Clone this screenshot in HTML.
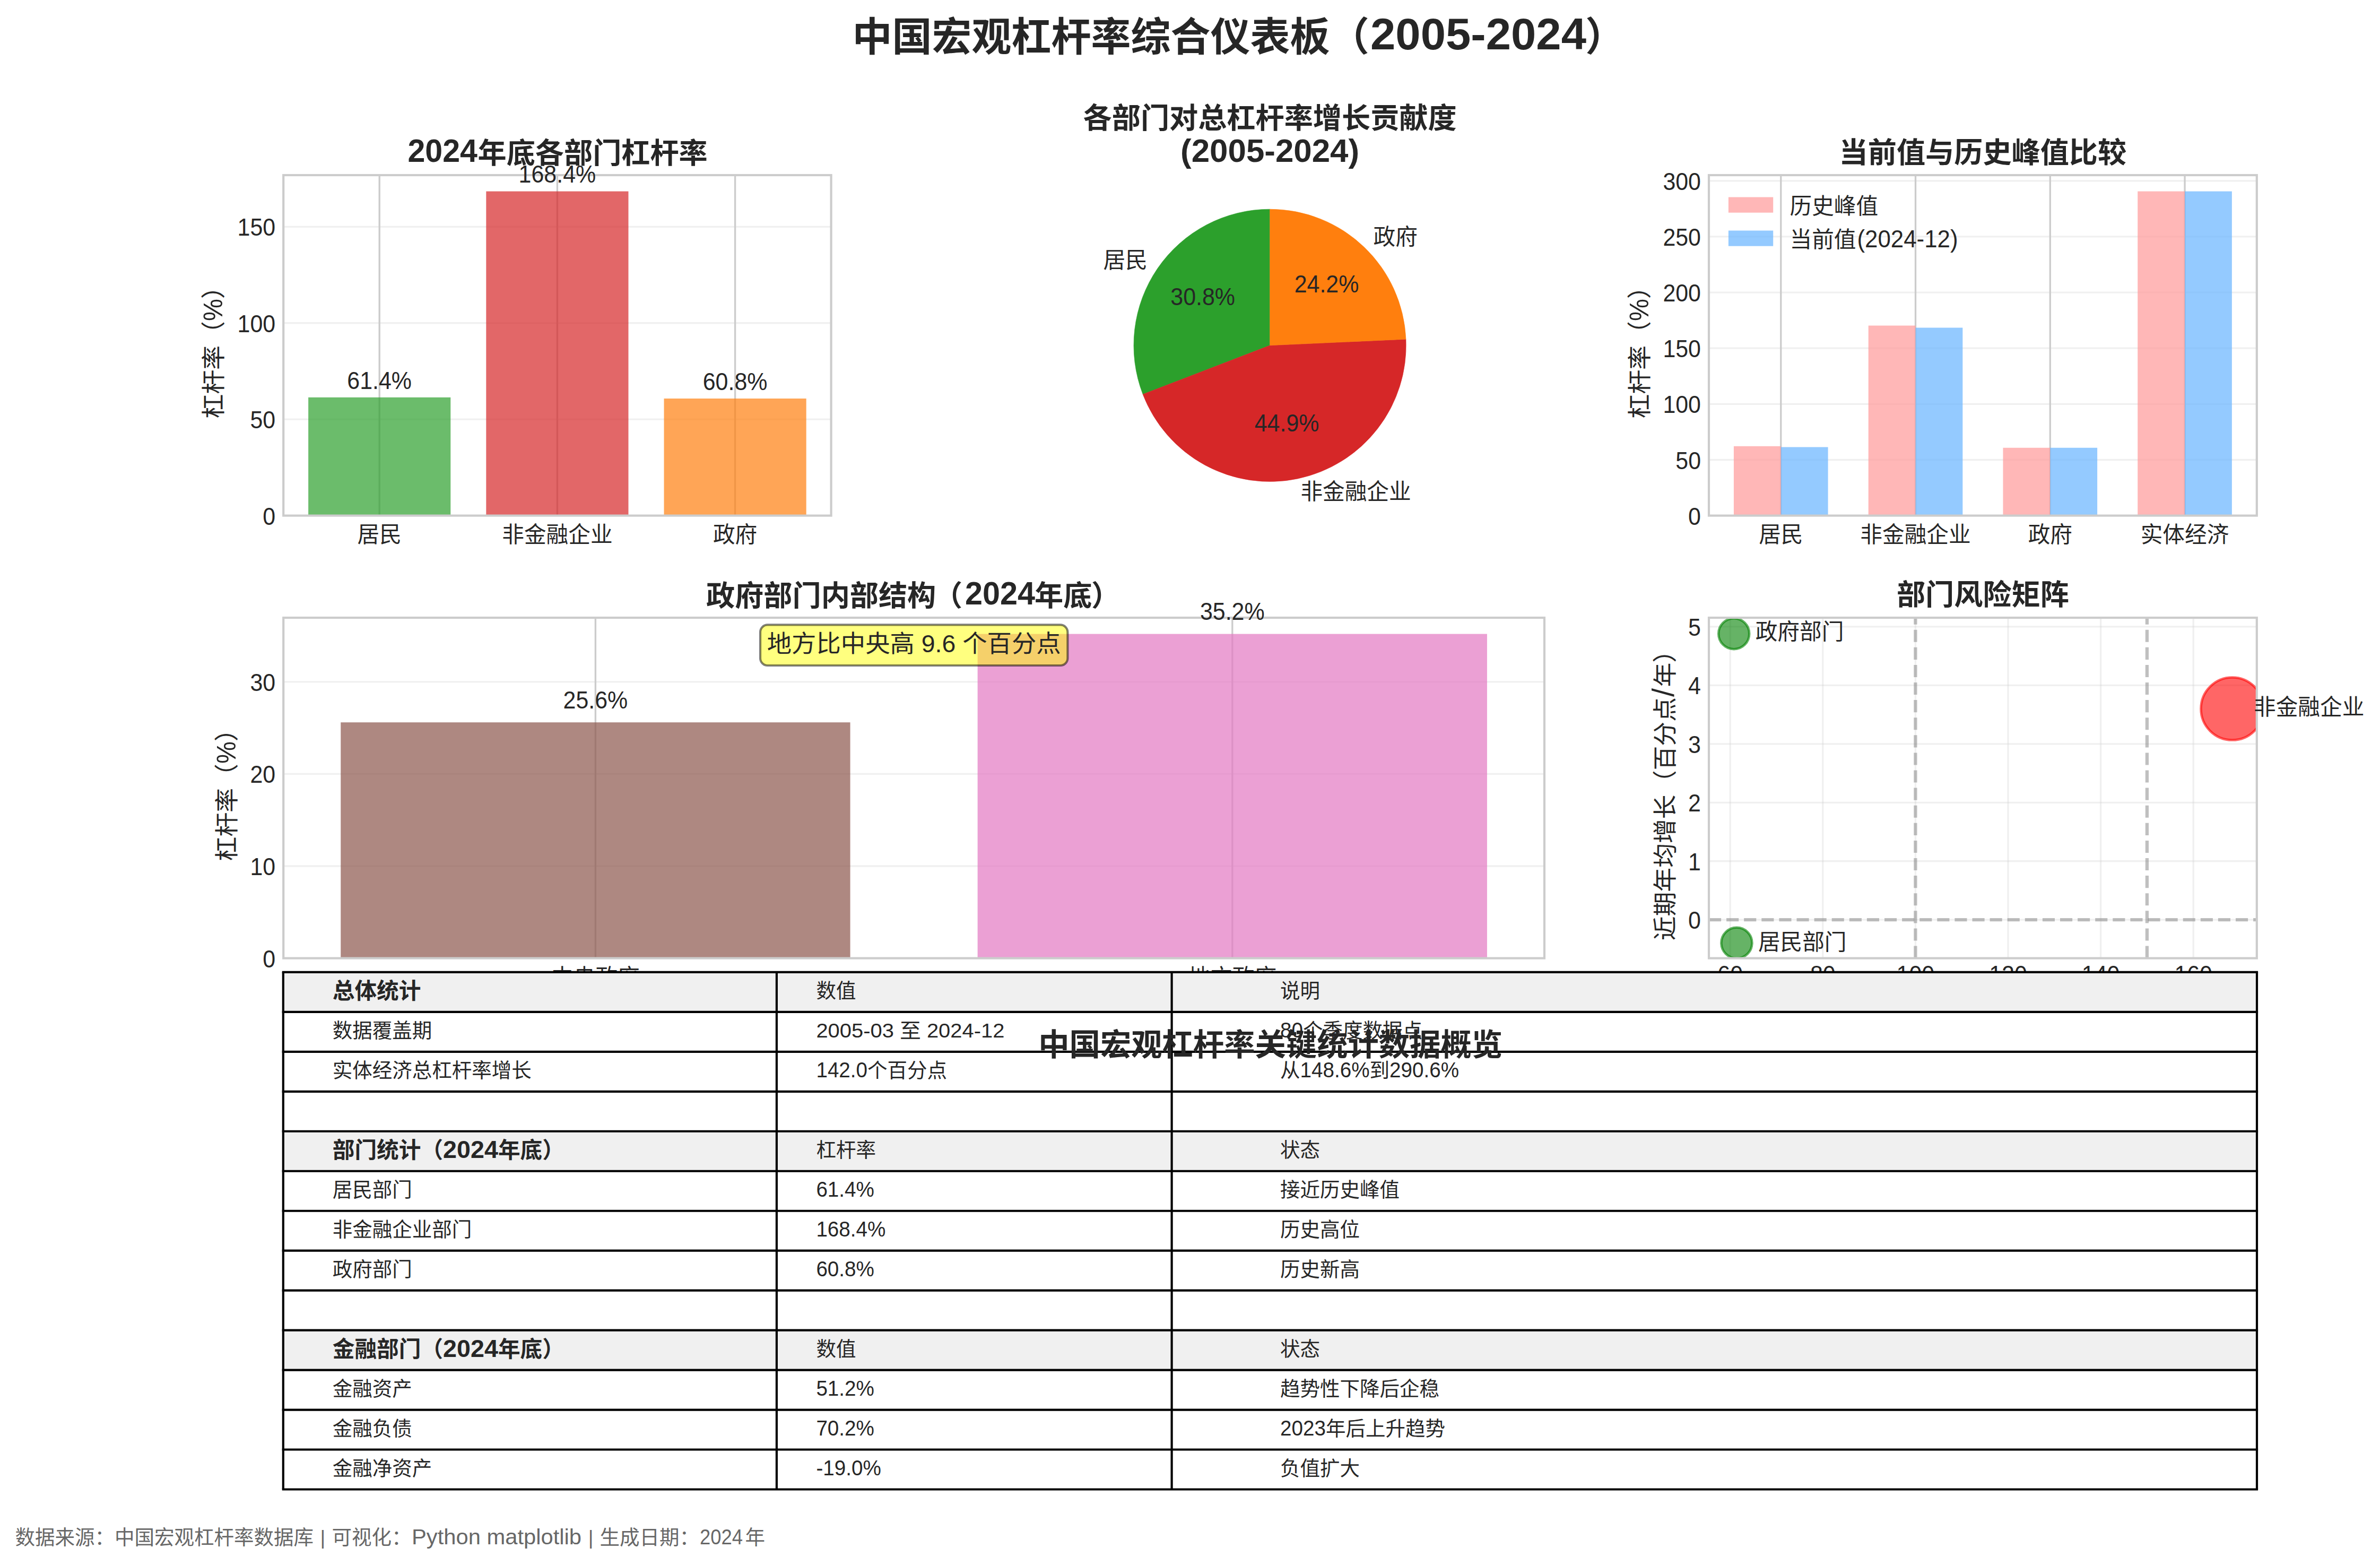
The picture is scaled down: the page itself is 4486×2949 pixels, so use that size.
<!DOCTYPE html>
<html lang="zh"><head><meta charset="utf-8"><title>中国宏观杠杆率综合仪表板</title>
<style>html,body{margin:0;padding:0;background:#fff;overflow:hidden}svg{display:block}
text{font-family:"Liberation Sans","Noto Sans CJK SC",sans-serif}</style></head>
<body><svg width="4486" height="2949" viewBox="0 0 4486 2949">
<rect width="4486" height="2949" fill="#fff"/>
<g fill="#262626">
<text font-size="75.00" font-weight="bold"><tspan x="1606.5" y="96.0">中国宏观杠杆率综合仪表板</tspan><tspan x="2506.0" y="96.0">（</tspan><tspan x="2583.0" y="93.0" font-size="84.00" textLength="407.0" lengthAdjust="spacingAndGlyphs">2005-2024</tspan><tspan x="2988.0" y="96.0">）</tspan></text>
<line x1="534.20" y1="790.17" x2="1566.60" y2="790.17" stroke="#cccccc" stroke-width="3.33" stroke-opacity="0.3"/>
<line x1="534.20" y1="608.75" x2="1566.60" y2="608.75" stroke="#cccccc" stroke-width="3.33" stroke-opacity="0.3"/>
<line x1="534.20" y1="427.32" x2="1566.60" y2="427.32" stroke="#cccccc" stroke-width="3.33" stroke-opacity="0.3"/>
<line x1="715.21" y1="330.00" x2="715.21" y2="971.60" stroke="#cccccc" stroke-width="3.33"/>
<line x1="1050.40" y1="330.00" x2="1050.40" y2="971.60" stroke="#cccccc" stroke-width="3.33"/>
<line x1="1385.59" y1="330.00" x2="1385.59" y2="971.60" stroke="#cccccc" stroke-width="3.33"/>
<rect x="581.13" y="748.81" width="268.16" height="222.79" fill="#2ca02c" fill-opacity="0.7"/>
<rect x="916.32" y="360.55" width="268.16" height="611.05" fill="#d62728" fill-opacity="0.7"/>
<rect x="1251.52" y="750.98" width="268.16" height="220.62" fill="#ff7f0e" fill-opacity="0.7"/>
<rect x="534.20" y="330.00" width="1032.40" height="641.60" fill="none" stroke="#cccccc" stroke-width="4.17"/>
<text x="715.2" y="732.5" font-size="45.83" text-anchor="middle" textLength="121.7" lengthAdjust="spacingAndGlyphs">61.4%</text>
<text x="715.2" y="1021.6" font-size="41.67" text-anchor="middle">居民</text>
<text x="1050.4" y="344.3" font-size="45.83" text-anchor="middle" textLength="145.6" lengthAdjust="spacingAndGlyphs">168.4%</text>
<text x="1050.4" y="1021.6" font-size="41.67" text-anchor="middle">非金融企业</text>
<text x="1385.6" y="734.7" font-size="45.83" text-anchor="middle" textLength="121.7" lengthAdjust="spacingAndGlyphs">60.8%</text>
<text x="1385.6" y="1021.6" font-size="41.67" text-anchor="middle">政府</text>
<text x="519.2" y="988.6" font-size="45.83" text-anchor="end" textLength="23.9" lengthAdjust="spacingAndGlyphs">0</text>
<text x="519.2" y="807.2" font-size="45.83" text-anchor="end" textLength="47.7" lengthAdjust="spacingAndGlyphs">50</text>
<text x="519.2" y="625.7" font-size="45.83" text-anchor="end" textLength="71.6" lengthAdjust="spacingAndGlyphs">100</text>
<text x="519.2" y="444.3" font-size="45.83" text-anchor="end" textLength="71.6" lengthAdjust="spacingAndGlyphs">150</text>
<text x="419.0" y="652.8" font-size="45.83" text-anchor="middle" transform="rotate(-90 419.0 652.8)">杠杆率（<tspan font-size="50.42" textLength="42.0" lengthAdjust="spacingAndGlyphs">%</tspan>）</text>
<text font-size="54.17" font-weight="bold"><tspan x="768.5" y="305.3" font-size="60.67" textLength="131.5" lengthAdjust="spacingAndGlyphs">2024</tspan><tspan x="900.5" y="307.5">年底各部门杠杆率</tspan></text>
<path d="M2393.60,650.80 L2393.60,394.20 A256.6,256.6 0 0 0 2154.11,742.92 Z" fill="#2ca02c" stroke="#2ca02c" stroke-width="0.6"/>
<path d="M2393.60,650.80 L2154.11,742.92 A256.6,256.6 0 0 0 2649.94,639.16 Z" fill="#d62728" stroke="#d62728" stroke-width="0.6"/>
<path d="M2393.60,650.80 L2649.94,639.16 A256.6,256.6 0 0 0 2393.60,394.20 Z" fill="#ff7f0e" stroke="#ff7f0e" stroke-width="0.6"/>
<text x="2162.9" y="505.0" font-size="41.67" text-anchor="end">居民</text>
<text x="2267.2" y="575.1" font-size="45.83" text-anchor="middle" textLength="121.7" lengthAdjust="spacingAndGlyphs">30.8%</text>
<text x="2451.4" y="941.1" font-size="41.67" text-anchor="start">非金融企业</text>
<text x="2425.6" y="813.0" font-size="45.83" text-anchor="middle" textLength="121.7" lengthAdjust="spacingAndGlyphs">44.9%</text>
<text x="2588.6" y="460.7" font-size="41.67" text-anchor="start">政府</text>
<text x="2500.5" y="551.0" font-size="45.83" text-anchor="middle" textLength="121.7" lengthAdjust="spacingAndGlyphs">24.2%</text>
<text x="2393.6" y="242.2" font-size="54.17" text-anchor="middle" font-weight="bold">各部门对总杠杆率增长贡献度</text>
<text x="2393.6" y="305.3" font-size="54.17" text-anchor="middle" font-weight="bold" textLength="337.0" lengthAdjust="spacingAndGlyphs"><tspan font-size="60.67">(2005-2024)</tspan></text>
<line x1="3221.00" y1="866.46" x2="4253.80" y2="866.46" stroke="#cccccc" stroke-width="3.33" stroke-opacity="0.3"/>
<line x1="3221.00" y1="761.33" x2="4253.80" y2="761.33" stroke="#cccccc" stroke-width="3.33" stroke-opacity="0.3"/>
<line x1="3221.00" y1="656.19" x2="4253.80" y2="656.19" stroke="#cccccc" stroke-width="3.33" stroke-opacity="0.3"/>
<line x1="3221.00" y1="551.06" x2="4253.80" y2="551.06" stroke="#cccccc" stroke-width="3.33" stroke-opacity="0.3"/>
<line x1="3221.00" y1="445.92" x2="4253.80" y2="445.92" stroke="#cccccc" stroke-width="3.33" stroke-opacity="0.3"/>
<line x1="3221.00" y1="340.79" x2="4253.80" y2="340.79" stroke="#cccccc" stroke-width="3.33" stroke-opacity="0.3"/>
<line x1="3356.76" y1="330.00" x2="3356.76" y2="971.60" stroke="#cccccc" stroke-width="3.33"/>
<line x1="3610.52" y1="330.00" x2="3610.52" y2="971.60" stroke="#cccccc" stroke-width="3.33"/>
<line x1="3864.28" y1="330.00" x2="3864.28" y2="971.60" stroke="#cccccc" stroke-width="3.33"/>
<line x1="4118.04" y1="330.00" x2="4118.04" y2="971.60" stroke="#cccccc" stroke-width="3.33"/>
<rect x="3267.95" y="840.81" width="88.82" height="130.79" fill="#ff9999" fill-opacity="0.7"/>
<rect x="3356.76" y="842.49" width="88.82" height="129.11" fill="#66b3ff" fill-opacity="0.7"/>
<rect x="3521.70" y="613.51" width="88.82" height="358.09" fill="#ff9999" fill-opacity="0.7"/>
<rect x="3610.52" y="617.50" width="88.82" height="354.10" fill="#66b3ff" fill-opacity="0.7"/>
<rect x="3775.46" y="843.76" width="88.82" height="127.84" fill="#ff9999" fill-opacity="0.7"/>
<rect x="3864.28" y="843.76" width="88.82" height="127.84" fill="#66b3ff" fill-opacity="0.7"/>
<rect x="4029.22" y="360.55" width="88.82" height="611.05" fill="#ff9999" fill-opacity="0.7"/>
<rect x="4118.04" y="360.55" width="88.82" height="611.05" fill="#66b3ff" fill-opacity="0.7"/>
<rect x="3221.00" y="330.00" width="1032.80" height="641.60" fill="none" stroke="#cccccc" stroke-width="4.17"/>
<text x="3356.8" y="1021.6" font-size="41.67" text-anchor="middle">居民</text>
<text x="3610.5" y="1021.6" font-size="41.67" text-anchor="middle">非金融企业</text>
<text x="3864.3" y="1021.6" font-size="41.67" text-anchor="middle">政府</text>
<text x="4118.0" y="1021.6" font-size="41.67" text-anchor="middle">实体经济</text>
<text x="3206.0" y="988.6" font-size="45.83" text-anchor="end" textLength="23.9" lengthAdjust="spacingAndGlyphs">0</text>
<text x="3206.0" y="883.5" font-size="45.83" text-anchor="end" textLength="47.7" lengthAdjust="spacingAndGlyphs">50</text>
<text x="3206.0" y="778.3" font-size="45.83" text-anchor="end" textLength="71.6" lengthAdjust="spacingAndGlyphs">100</text>
<text x="3206.0" y="673.2" font-size="45.83" text-anchor="end" textLength="71.6" lengthAdjust="spacingAndGlyphs">150</text>
<text x="3206.0" y="568.1" font-size="45.83" text-anchor="end" textLength="71.6" lengthAdjust="spacingAndGlyphs">200</text>
<text x="3206.0" y="462.9" font-size="45.83" text-anchor="end" textLength="71.6" lengthAdjust="spacingAndGlyphs">250</text>
<text x="3206.0" y="357.8" font-size="45.83" text-anchor="end" textLength="71.6" lengthAdjust="spacingAndGlyphs">300</text>
<text x="3107.0" y="652.8" font-size="45.83" text-anchor="middle" transform="rotate(-90 3107.0 652.8)">杠杆率（<tspan font-size="50.42" textLength="42.0" lengthAdjust="spacingAndGlyphs">%</tspan>）</text>
<text x="3737.4" y="307.2" font-size="54.17" text-anchor="middle" font-weight="bold">当前值与历史峰值比较</text>
<rect x="3257.90" y="371.50" width="84.30" height="29.20" fill="#ff9999" fill-opacity="0.7"/>
<rect x="3257.90" y="434.50" width="84.30" height="29.20" fill="#66b3ff" fill-opacity="0.7"/>
<text x="3373.5" y="403.0" font-size="41.67" text-anchor="start">历史峰值</text>
<text font-size="41.67"><tspan x="3373.5" y="466.0">当前值</tspan><tspan x="3500.5" y="466.0" font-size="45.83" textLength="190.0" lengthAdjust="spacingAndGlyphs">(2024-12)</tspan></text>
<line x1="534.20" y1="1632.01" x2="2911.00" y2="1632.01" stroke="#cccccc" stroke-width="3.33" stroke-opacity="0.3"/>
<line x1="534.20" y1="1458.41" x2="2911.00" y2="1458.41" stroke="#cccccc" stroke-width="3.33" stroke-opacity="0.3"/>
<line x1="534.20" y1="1284.82" x2="2911.00" y2="1284.82" stroke="#cccccc" stroke-width="3.33" stroke-opacity="0.3"/>
<line x1="1122.40" y1="1164.00" x2="1122.40" y2="1805.60" stroke="#cccccc" stroke-width="3.33"/>
<line x1="2322.80" y1="1164.00" x2="2322.80" y2="1805.60" stroke="#cccccc" stroke-width="3.33"/>
<rect x="642.24" y="1361.20" width="960.32" height="444.40" fill="#8c564b" fill-opacity="0.7"/>
<rect x="1842.64" y="1194.55" width="960.32" height="611.05" fill="#e377c2" fill-opacity="0.7"/>
<rect x="534.20" y="1164.00" width="2376.80" height="641.60" fill="none" stroke="#cccccc" stroke-width="4.17"/>
<text x="1122.4" y="1334.8" font-size="45.83" text-anchor="middle" textLength="121.7" lengthAdjust="spacingAndGlyphs">25.6%</text>
<text x="1122.4" y="1855.6" font-size="41.67" text-anchor="middle">中央政府</text>
<text x="2322.8" y="1168.2" font-size="45.83" text-anchor="middle" textLength="121.7" lengthAdjust="spacingAndGlyphs">35.2%</text>
<text x="2322.8" y="1855.6" font-size="41.67" text-anchor="middle">地方政府</text>
<text x="519.2" y="1822.6" font-size="45.83" text-anchor="end" textLength="23.9" lengthAdjust="spacingAndGlyphs">0</text>
<text x="519.2" y="1649.0" font-size="45.83" text-anchor="end" textLength="47.7" lengthAdjust="spacingAndGlyphs">10</text>
<text x="519.2" y="1475.4" font-size="45.83" text-anchor="end" textLength="47.7" lengthAdjust="spacingAndGlyphs">20</text>
<text x="519.2" y="1301.8" font-size="45.83" text-anchor="end" textLength="47.7" lengthAdjust="spacingAndGlyphs">30</text>
<text x="444.5" y="1486.8" font-size="45.83" text-anchor="middle" transform="rotate(-90 444.5 1486.8)">杠杆率（<tspan font-size="50.42" textLength="42.0" lengthAdjust="spacingAndGlyphs">%</tspan>）</text>
<text font-size="54.17" font-weight="bold"><tspan x="1331.0" y="1141.5">政府部门内部结构</tspan><tspan x="1760.0" y="1141.5">（</tspan><tspan x="1819.0" y="1139.3" font-size="60.67" textLength="132.0" lengthAdjust="spacingAndGlyphs">2024</tspan><tspan x="1950.0" y="1141.5">年底</tspan><tspan x="2057.0" y="1141.5">）</tspan></text>
<rect x="1433.0" y="1177.4" width="579.4" height="76.6" rx="13.75" ry="13.75" fill="#ffff00" fill-opacity="0.5" stroke="#000" stroke-opacity="0.5" stroke-width="4.17"/>
<text x="1722.7" y="1228.8" font-size="45.83" text-anchor="middle" textLength="554.0" lengthAdjust="spacingAndGlyphs">地方比中央高 9.6 个百分点</text>
<clipPath id="c5"><rect x="3221.0" y="1164.0" width="1032.8" height="641.6"/></clipPath>
<line x1="3221.00" y1="1733.20" x2="4253.80" y2="1733.20" stroke="#cccccc" stroke-width="3.33" stroke-opacity="0.3"/>
<line x1="3221.00" y1="1622.75" x2="4253.80" y2="1622.75" stroke="#cccccc" stroke-width="3.33" stroke-opacity="0.3"/>
<line x1="3221.00" y1="1512.30" x2="4253.80" y2="1512.30" stroke="#cccccc" stroke-width="3.33" stroke-opacity="0.3"/>
<line x1="3221.00" y1="1401.85" x2="4253.80" y2="1401.85" stroke="#cccccc" stroke-width="3.33" stroke-opacity="0.3"/>
<line x1="3221.00" y1="1291.40" x2="4253.80" y2="1291.40" stroke="#cccccc" stroke-width="3.33" stroke-opacity="0.3"/>
<line x1="3221.00" y1="1180.95" x2="4253.80" y2="1180.95" stroke="#cccccc" stroke-width="3.33" stroke-opacity="0.3"/>
<line x1="3261.20" y1="1164.00" x2="3261.20" y2="1805.60" stroke="#cccccc" stroke-width="3.33" stroke-opacity="0.3"/>
<line x1="3435.80" y1="1164.00" x2="3435.80" y2="1805.60" stroke="#cccccc" stroke-width="3.33" stroke-opacity="0.3"/>
<line x1="3610.40" y1="1164.00" x2="3610.40" y2="1805.60" stroke="#cccccc" stroke-width="3.33" stroke-opacity="0.3"/>
<line x1="3785.00" y1="1164.00" x2="3785.00" y2="1805.60" stroke="#cccccc" stroke-width="3.33" stroke-opacity="0.3"/>
<line x1="3959.60" y1="1164.00" x2="3959.60" y2="1805.60" stroke="#cccccc" stroke-width="3.33" stroke-opacity="0.3"/>
<line x1="4134.20" y1="1164.00" x2="4134.20" y2="1805.60" stroke="#cccccc" stroke-width="3.33" stroke-opacity="0.3"/>
<g clip-path="url(#c5)">
<line x1="3221.00" y1="1733.20" x2="4253.80" y2="1733.20" stroke="#808080" stroke-width="6.25" stroke-opacity="0.5" stroke-dasharray="23.1 10"/>
<line x1="3610.40" y1="1805.60" x2="3610.40" y2="1164.00" stroke="#808080" stroke-width="6.25" stroke-opacity="0.5" stroke-dasharray="23.1 10"/>
<line x1="4046.90" y1="1805.60" x2="4046.90" y2="1164.00" stroke="#808080" stroke-width="6.25" stroke-opacity="0.5" stroke-dasharray="23.1 10"/>
<circle cx="3268.2" cy="1194.2" r="29" fill="#008000" fill-opacity="0.6" stroke="#008000" stroke-opacity="0.6" stroke-width="4.5"/>
<circle cx="3273.4" cy="1776.8" r="29" fill="#008000" fill-opacity="0.6" stroke="#008000" stroke-opacity="0.6" stroke-width="4.5"/>
<circle cx="4207.5" cy="1335.6" r="59" fill="#ff0000" fill-opacity="0.6" stroke="#ff0000" stroke-opacity="0.6" stroke-width="4.5"/>
</g>
<rect x="3221.00" y="1164.00" width="1032.80" height="641.60" fill="none" stroke="#cccccc" stroke-width="4.17"/>
<text x="3308.7" y="1204.8" font-size="41.67" text-anchor="start">政府部门</text>
<text x="3313.9" y="1790.3" font-size="41.67" text-anchor="start">居民部门</text>
<text x="4248.0" y="1347.1" font-size="41.67" text-anchor="start">非金融企业</text>
<text x="3206.0" y="1750.2" font-size="45.83" text-anchor="end" textLength="23.9" lengthAdjust="spacingAndGlyphs">0</text>
<text x="3206.0" y="1639.8" font-size="45.83" text-anchor="end" textLength="23.9" lengthAdjust="spacingAndGlyphs">1</text>
<text x="3206.0" y="1529.3" font-size="45.83" text-anchor="end" textLength="23.9" lengthAdjust="spacingAndGlyphs">2</text>
<text x="3206.0" y="1418.8" font-size="45.83" text-anchor="end" textLength="23.9" lengthAdjust="spacingAndGlyphs">3</text>
<text x="3206.0" y="1308.4" font-size="45.83" text-anchor="end" textLength="23.9" lengthAdjust="spacingAndGlyphs">4</text>
<text x="3206.0" y="1198.0" font-size="45.83" text-anchor="end" textLength="23.9" lengthAdjust="spacingAndGlyphs">5</text>
<text x="3261.2" y="1851.6" font-size="45.83" text-anchor="middle" textLength="47.7" lengthAdjust="spacingAndGlyphs">60</text>
<text x="3435.8" y="1851.6" font-size="45.83" text-anchor="middle" textLength="47.7" lengthAdjust="spacingAndGlyphs">80</text>
<text x="3610.4" y="1851.6" font-size="45.83" text-anchor="middle" textLength="71.6" lengthAdjust="spacingAndGlyphs">100</text>
<text x="3785.0" y="1851.6" font-size="45.83" text-anchor="middle" textLength="71.6" lengthAdjust="spacingAndGlyphs">120</text>
<text x="3959.6" y="1851.6" font-size="45.83" text-anchor="middle" textLength="71.6" lengthAdjust="spacingAndGlyphs">140</text>
<text x="4134.2" y="1851.6" font-size="45.83" text-anchor="middle" textLength="71.6" lengthAdjust="spacingAndGlyphs">160</text>
<text x="3155.5" y="1772.3" font-size="45.83" text-anchor="start" transform="rotate(-90 3155.5 1772.3)">近期年均增长（百分点<tspan dx="1" font-size="58">/</tspan><tspan dx="2.5">年）</tspan></text>
<text x="3737.4" y="1140.0" font-size="54.17" text-anchor="middle" font-weight="bold">部门风险矩阵</text>
<rect x="533.80" y="1831.90" width="3720.20" height="974.60" fill="#ffffff"/>
<rect x="533.80" y="1831.90" width="3720.20" height="74.97" fill="#f0f0f0"/>
<rect x="533.80" y="2131.78" width="3720.20" height="74.97" fill="#f0f0f0"/>
<rect x="533.80" y="2506.62" width="3720.20" height="74.97" fill="#f0f0f0"/>
<line x1="531.72" y1="1831.90" x2="4256.08" y2="1831.90" stroke="#000" stroke-width="4.17"/>
<line x1="531.72" y1="1906.87" x2="4256.08" y2="1906.87" stroke="#000" stroke-width="4.17"/>
<line x1="531.72" y1="1981.84" x2="4256.08" y2="1981.84" stroke="#000" stroke-width="4.17"/>
<line x1="531.72" y1="2056.81" x2="4256.08" y2="2056.81" stroke="#000" stroke-width="4.17"/>
<line x1="531.72" y1="2131.78" x2="4256.08" y2="2131.78" stroke="#000" stroke-width="4.17"/>
<line x1="531.72" y1="2206.75" x2="4256.08" y2="2206.75" stroke="#000" stroke-width="4.17"/>
<line x1="531.72" y1="2281.72" x2="4256.08" y2="2281.72" stroke="#000" stroke-width="4.17"/>
<line x1="531.72" y1="2356.68" x2="4256.08" y2="2356.68" stroke="#000" stroke-width="4.17"/>
<line x1="531.72" y1="2431.65" x2="4256.08" y2="2431.65" stroke="#000" stroke-width="4.17"/>
<line x1="531.72" y1="2506.62" x2="4256.08" y2="2506.62" stroke="#000" stroke-width="4.17"/>
<line x1="531.72" y1="2581.59" x2="4256.08" y2="2581.59" stroke="#000" stroke-width="4.17"/>
<line x1="531.72" y1="2656.56" x2="4256.08" y2="2656.56" stroke="#000" stroke-width="4.17"/>
<line x1="531.72" y1="2731.53" x2="4256.08" y2="2731.53" stroke="#000" stroke-width="4.17"/>
<line x1="531.72" y1="2806.50" x2="4256.08" y2="2806.50" stroke="#000" stroke-width="4.17"/>
<line x1="533.80" y1="1831.90" x2="533.80" y2="2806.50" stroke="#000" stroke-width="4.17"/>
<line x1="1463.90" y1="1831.90" x2="1463.90" y2="2806.50" stroke="#000" stroke-width="4.17"/>
<line x1="2208.60" y1="1831.90" x2="2208.60" y2="2806.50" stroke="#000" stroke-width="4.17"/>
<line x1="4254.00" y1="1831.90" x2="4254.00" y2="2806.50" stroke="#000" stroke-width="4.17"/>
<text x="626.8" y="1881.9" font-size="41.67" text-anchor="start" font-weight="bold">总体统计</text>
<text x="1538.4" y="1880.4" font-size="37.50" text-anchor="start">数值</text>
<text x="2413.1" y="1880.4" font-size="37.50" text-anchor="start">说明</text>
<text x="626.8" y="1955.4" font-size="37.50" text-anchor="start">数据覆盖期</text>
<text x="1538.4" y="1955.4" font-size="37.50" text-anchor="start" textLength="355.0" lengthAdjust="spacingAndGlyphs">2005-03 至 2024-12</text>
<text x="2413.1" y="1955.4" font-size="37.50" text-anchor="start"><tspan font-size="41.25" textLength="43.0" lengthAdjust="spacingAndGlyphs">80</tspan>个季度数据点</text>
<text x="626.8" y="2030.3" font-size="37.50" text-anchor="start">实体经济总杠杆率增长</text>
<text x="1538.4" y="2030.3" font-size="37.50" text-anchor="start"><tspan font-size="41.25" textLength="96.7" lengthAdjust="spacingAndGlyphs">142.0</tspan>个百分点</text>
<text x="2413.1" y="2030.3" font-size="37.50" text-anchor="start">从<tspan font-size="41.25" textLength="131.0" lengthAdjust="spacingAndGlyphs">148.6%</tspan>到<tspan font-size="41.25" textLength="131.0" lengthAdjust="spacingAndGlyphs">290.6%</tspan></text>
<text x="626.8" y="2181.8" font-size="41.67" text-anchor="start" font-weight="bold">部门统计（<tspan font-size="46.67">2024</tspan>年底）</text>
<text x="1538.4" y="2180.3" font-size="37.50" text-anchor="start">杠杆率</text>
<text x="2413.1" y="2180.3" font-size="37.50" text-anchor="start">状态</text>
<text x="626.8" y="2255.2" font-size="37.50" text-anchor="start">居民部门</text>
<text x="1538.4" y="2255.2" font-size="41.25" text-anchor="start" textLength="109.5" lengthAdjust="spacingAndGlyphs">61.4%</text>
<text x="2413.1" y="2255.2" font-size="37.50" text-anchor="start">接近历史峰值</text>
<text x="626.8" y="2330.2" font-size="37.50" text-anchor="start">非金融企业部门</text>
<text x="1538.4" y="2330.2" font-size="41.25" text-anchor="start" textLength="131.0" lengthAdjust="spacingAndGlyphs">168.4%</text>
<text x="2413.1" y="2330.2" font-size="37.50" text-anchor="start">历史高位</text>
<text x="626.8" y="2405.2" font-size="37.50" text-anchor="start">政府部门</text>
<text x="1538.4" y="2405.2" font-size="41.25" text-anchor="start" textLength="109.5" lengthAdjust="spacingAndGlyphs">60.8%</text>
<text x="2413.1" y="2405.2" font-size="37.50" text-anchor="start">历史新高</text>
<text x="626.8" y="2556.6" font-size="41.67" text-anchor="start" font-weight="bold">金融部门（<tspan font-size="46.67">2024</tspan>年底）</text>
<text x="1538.4" y="2555.1" font-size="37.50" text-anchor="start">数值</text>
<text x="2413.1" y="2555.1" font-size="37.50" text-anchor="start">状态</text>
<text x="626.8" y="2630.1" font-size="37.50" text-anchor="start">金融资产</text>
<text x="1538.4" y="2630.1" font-size="41.25" text-anchor="start" textLength="109.5" lengthAdjust="spacingAndGlyphs">51.2%</text>
<text x="2413.1" y="2630.1" font-size="37.50" text-anchor="start">趋势性下降后企稳</text>
<text x="626.8" y="2705.0" font-size="37.50" text-anchor="start">金融负债</text>
<text x="1538.4" y="2705.0" font-size="41.25" text-anchor="start" textLength="109.5" lengthAdjust="spacingAndGlyphs">70.2%</text>
<text x="2413.1" y="2705.0" font-size="37.50" text-anchor="start"><tspan font-size="41.25" textLength="85.9" lengthAdjust="spacingAndGlyphs">2023</tspan>年后上升趋势</text>
<text x="626.8" y="2780.0" font-size="37.50" text-anchor="start">金融净资产</text>
<text x="1538.4" y="2780.0" font-size="41.25" text-anchor="start" textLength="122.4" lengthAdjust="spacingAndGlyphs">-19.0%</text>
<text x="2413.1" y="2780.0" font-size="37.50" text-anchor="start">负值扩大</text>
<text x="2394.7" y="1989.0" font-size="58.33" text-anchor="middle" font-weight="bold">中国宏观杠杆率关键统计数据概览</text>
<text font-size="37.50" fill="#676767"><tspan x="28.5" y="2910.0">数据来源：中国宏观杠杆率数据库</tspan><tspan x="603.5" y="2910.0">|</tspan><tspan x="625.5" y="2910.0">可视化：</tspan><tspan x="776.0" y="2910.0" font-size="41.25" textLength="320.0" lengthAdjust="spacingAndGlyphs">Python matplotlib</tspan><tspan x="1108.8" y="2910.0">|</tspan><tspan x="1130.5" y="2910.0">生成日期：</tspan><tspan x="1319.0" y="2910.0" font-size="41.25" textLength="81.0" lengthAdjust="spacingAndGlyphs">2024</tspan><tspan x="1404.5" y="2910.0">年</tspan></text>
</g></svg></body></html>
